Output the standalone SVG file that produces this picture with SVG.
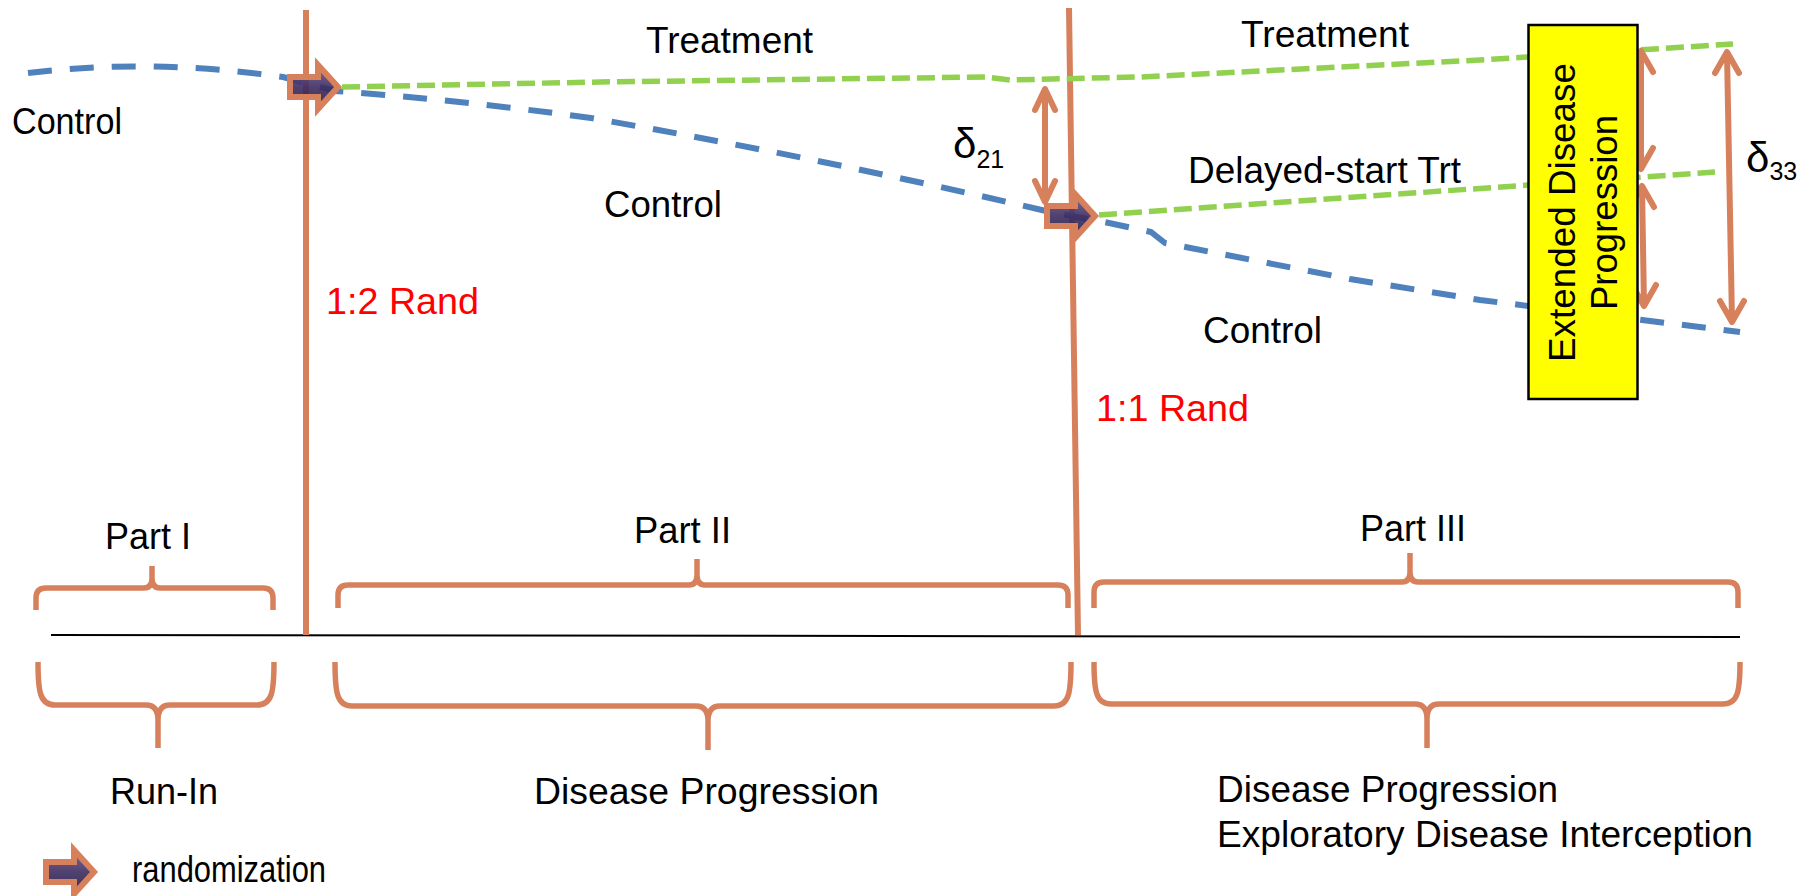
<svg xmlns="http://www.w3.org/2000/svg" width="1810" height="896" viewBox="0 0 1810 896">
<style>
text{font-family:"Liberation Sans",Arial,sans-serif;font-size:36px;fill:#000}
.red{fill:#ff0000}
.delta{font-size:42px}
.brace{fill:none;stroke:#d7815c;stroke-width:5.5;stroke-linejoin:round}
.vline{fill:none;stroke:#d7815c;stroke-width:6}
.dbl{fill:none;stroke:#d7815c;stroke-width:6;stroke-linecap:round;stroke-linejoin:round}
.ctrl{fill:none;stroke:#4f81bd;stroke-width:6;stroke-dasharray:24 18}
.trt{fill:none;stroke:#92d050;stroke-width:5.5;stroke-dasharray:18 7}
.rarrow{fill:url(#pg);fill-opacity:0.9;stroke:#d7815c;stroke-width:6;stroke-linejoin:miter}
</style>
<defs>
<linearGradient id="pg" x1="0" y1="0" x2="0" y2="1">
<stop offset="0" stop-color="#6b5b95"/>
<stop offset="0.5" stop-color="#3d2c60"/>
<stop offset="1" stop-color="#251a42"/>
</linearGradient>
<path id="ra" d="M-52,-10 H-24 V-22 L-4,0 L-24,22 V10 H-52 Z"/>
</defs>

<g id="timeline">
<path d="M51,635 L1740,637" stroke="#000" stroke-width="2" fill="none"/>
</g>

<g id="braces">
<path class="brace" d="M36,610 V598 Q36,588 46,588 H144 Q152,588 152,578 V566 M273,610 V598 Q273,588 263,588 H160 Q152,588 152,578"/>
<path class="brace" d="M338,608 V595 Q338,585 348,585 H689 Q697,585 697,575 V559 M1068,608 V595 Q1068,585 1058,585 H705 Q697,585 697,575"/>
<path class="brace" d="M1094,608 V592 Q1094,582 1104,582 H1402 Q1410,582 1410,572 V553 M1738,608 V592 Q1738,582 1728,582 H1418 Q1410,582 1410,572"/>
<path class="brace" d="M38,662 C38,692 40,705 55,705 H146 Q158,705 158,720 V748 M274,662 C274,692 272,705 257,705 H170 Q158,705 158,720"/>
<path class="brace" d="M335,662 C335,693 337,706 352,706 H696 Q708,706 708,721 V750 M1071,662 C1071,693 1069,706 1054,706 H720 Q708,706 708,721"/>
<path class="brace" d="M1094,662 C1094,691 1096,704 1111,704 H1415 Q1427,704 1427,719 V748 M1740,662 C1740,691 1738,704 1723,704 H1439 Q1427,704 1427,719"/>
</g>

<g id="rand-lines">
<path class="vline" d="M306,10 V635"/>
<path class="vline" d="M1069,8 L1078,635"/>
</g>

<g id="connectors">
<path class="ctrl" d="M28,73 Q150,58 283,77 L335,91 Q460,100 591,118 Q820,158 1046,211 L1109,223 L1151,232 L1165,243 L1350,279 L1480,300 L1740,332"/>
<path class="trt" d="M342,87 L600,82 L985,77 L1010,80 L1140,77 L1480,60 L1733,44"/>
<path class="trt" d="M1099,215 L1715,172"/>
</g>

<g id="rand-arrow-1"><use href="#ra" class="rarrow" transform="translate(342,87)"/></g>
<g id="rand-arrow-2"><use href="#ra" class="rarrow" transform="translate(1099,216)"/></g>

<g id="delta21">
<path class="dbl" d="M1045,90 V201 M1035,110 L1045,89 L1055,110 M1035,181 L1045,202 L1055,181"/>
<text class="delta" x="953" y="158">δ<tspan font-size="25" dy="10">21</tspan></text>
</g>

<g id="delta33">
<path class="dbl" d="M1727,53 L1732,321 M1715,73 L1727,52 L1739,73 M1720,301 L1732,322 L1744,301"/>
<text class="delta" x="1746" y="172">δ<tspan font-size="25" dy="8">33</tspan></text>
</g>

<g id="box-arrows">
<path class="dbl" d="M1641,52 V168 M1629,72 L1641,51 L1653,72 M1629,148 L1641,169 L1653,148"/>
<path class="dbl" d="M1642,187 L1644,305 M1630,207 L1642,186 L1654,207 M1632,285 L1644,306 L1656,285"/>
</g>

<g id="extended-box">
<rect x="1528.5" y="25" width="109" height="374" fill="#ffff00" stroke="#000" stroke-width="2.5"/>
<text transform="translate(1575,212.5) rotate(-90)" text-anchor="middle" textLength="299" lengthAdjust="spacingAndGlyphs">Extended Disease</text>
<text transform="translate(1617,212.5) rotate(-90)" text-anchor="middle" textLength="195" lengthAdjust="spacingAndGlyphs">Progression</text>
</g>

<g id="labels">
<text x="12" y="134" textLength="110" lengthAdjust="spacingAndGlyphs">Control</text>
<text x="646" y="53" textLength="167" lengthAdjust="spacingAndGlyphs">Treatment</text>
<text x="1241" y="47" textLength="168" lengthAdjust="spacingAndGlyphs">Treatment</text>
<text x="604" y="217" textLength="118" lengthAdjust="spacingAndGlyphs">Control</text>
<text x="1188" y="183" textLength="273" lengthAdjust="spacingAndGlyphs">Delayed-start Trt</text>
<text x="1203" y="343" textLength="119" lengthAdjust="spacingAndGlyphs">Control</text>
<text class="red" x="326" y="314" textLength="153" lengthAdjust="spacingAndGlyphs">1:2 Rand</text>
<text class="red" x="1096" y="421" textLength="153" lengthAdjust="spacingAndGlyphs">1:1 Rand</text>
</g>

<g id="part-1">
<text x="148" y="549" text-anchor="middle">Part I</text>
<text x="164" y="804" text-anchor="middle">Run-In</text>
</g>
<g id="part-2">
<text x="634" y="543" textLength="97" lengthAdjust="spacingAndGlyphs">Part II</text>
<text x="534" y="804" textLength="345" lengthAdjust="spacingAndGlyphs">Disease Progression</text>
</g>
<g id="part-3">
<text x="1360" y="541" textLength="106" lengthAdjust="spacingAndGlyphs">Part III</text>
<text x="1217" y="802" textLength="341" lengthAdjust="spacingAndGlyphs">Disease Progression</text>
<text x="1217" y="847" textLength="536" lengthAdjust="spacingAndGlyphs">Exploratory Disease Interception</text>
</g>

<g id="legend">
<use href="#ra" class="rarrow" transform="translate(98,872)"/>
<text x="132" y="882" font-size="30" textLength="194" lengthAdjust="spacingAndGlyphs">randomization</text>
</g>
</svg>
